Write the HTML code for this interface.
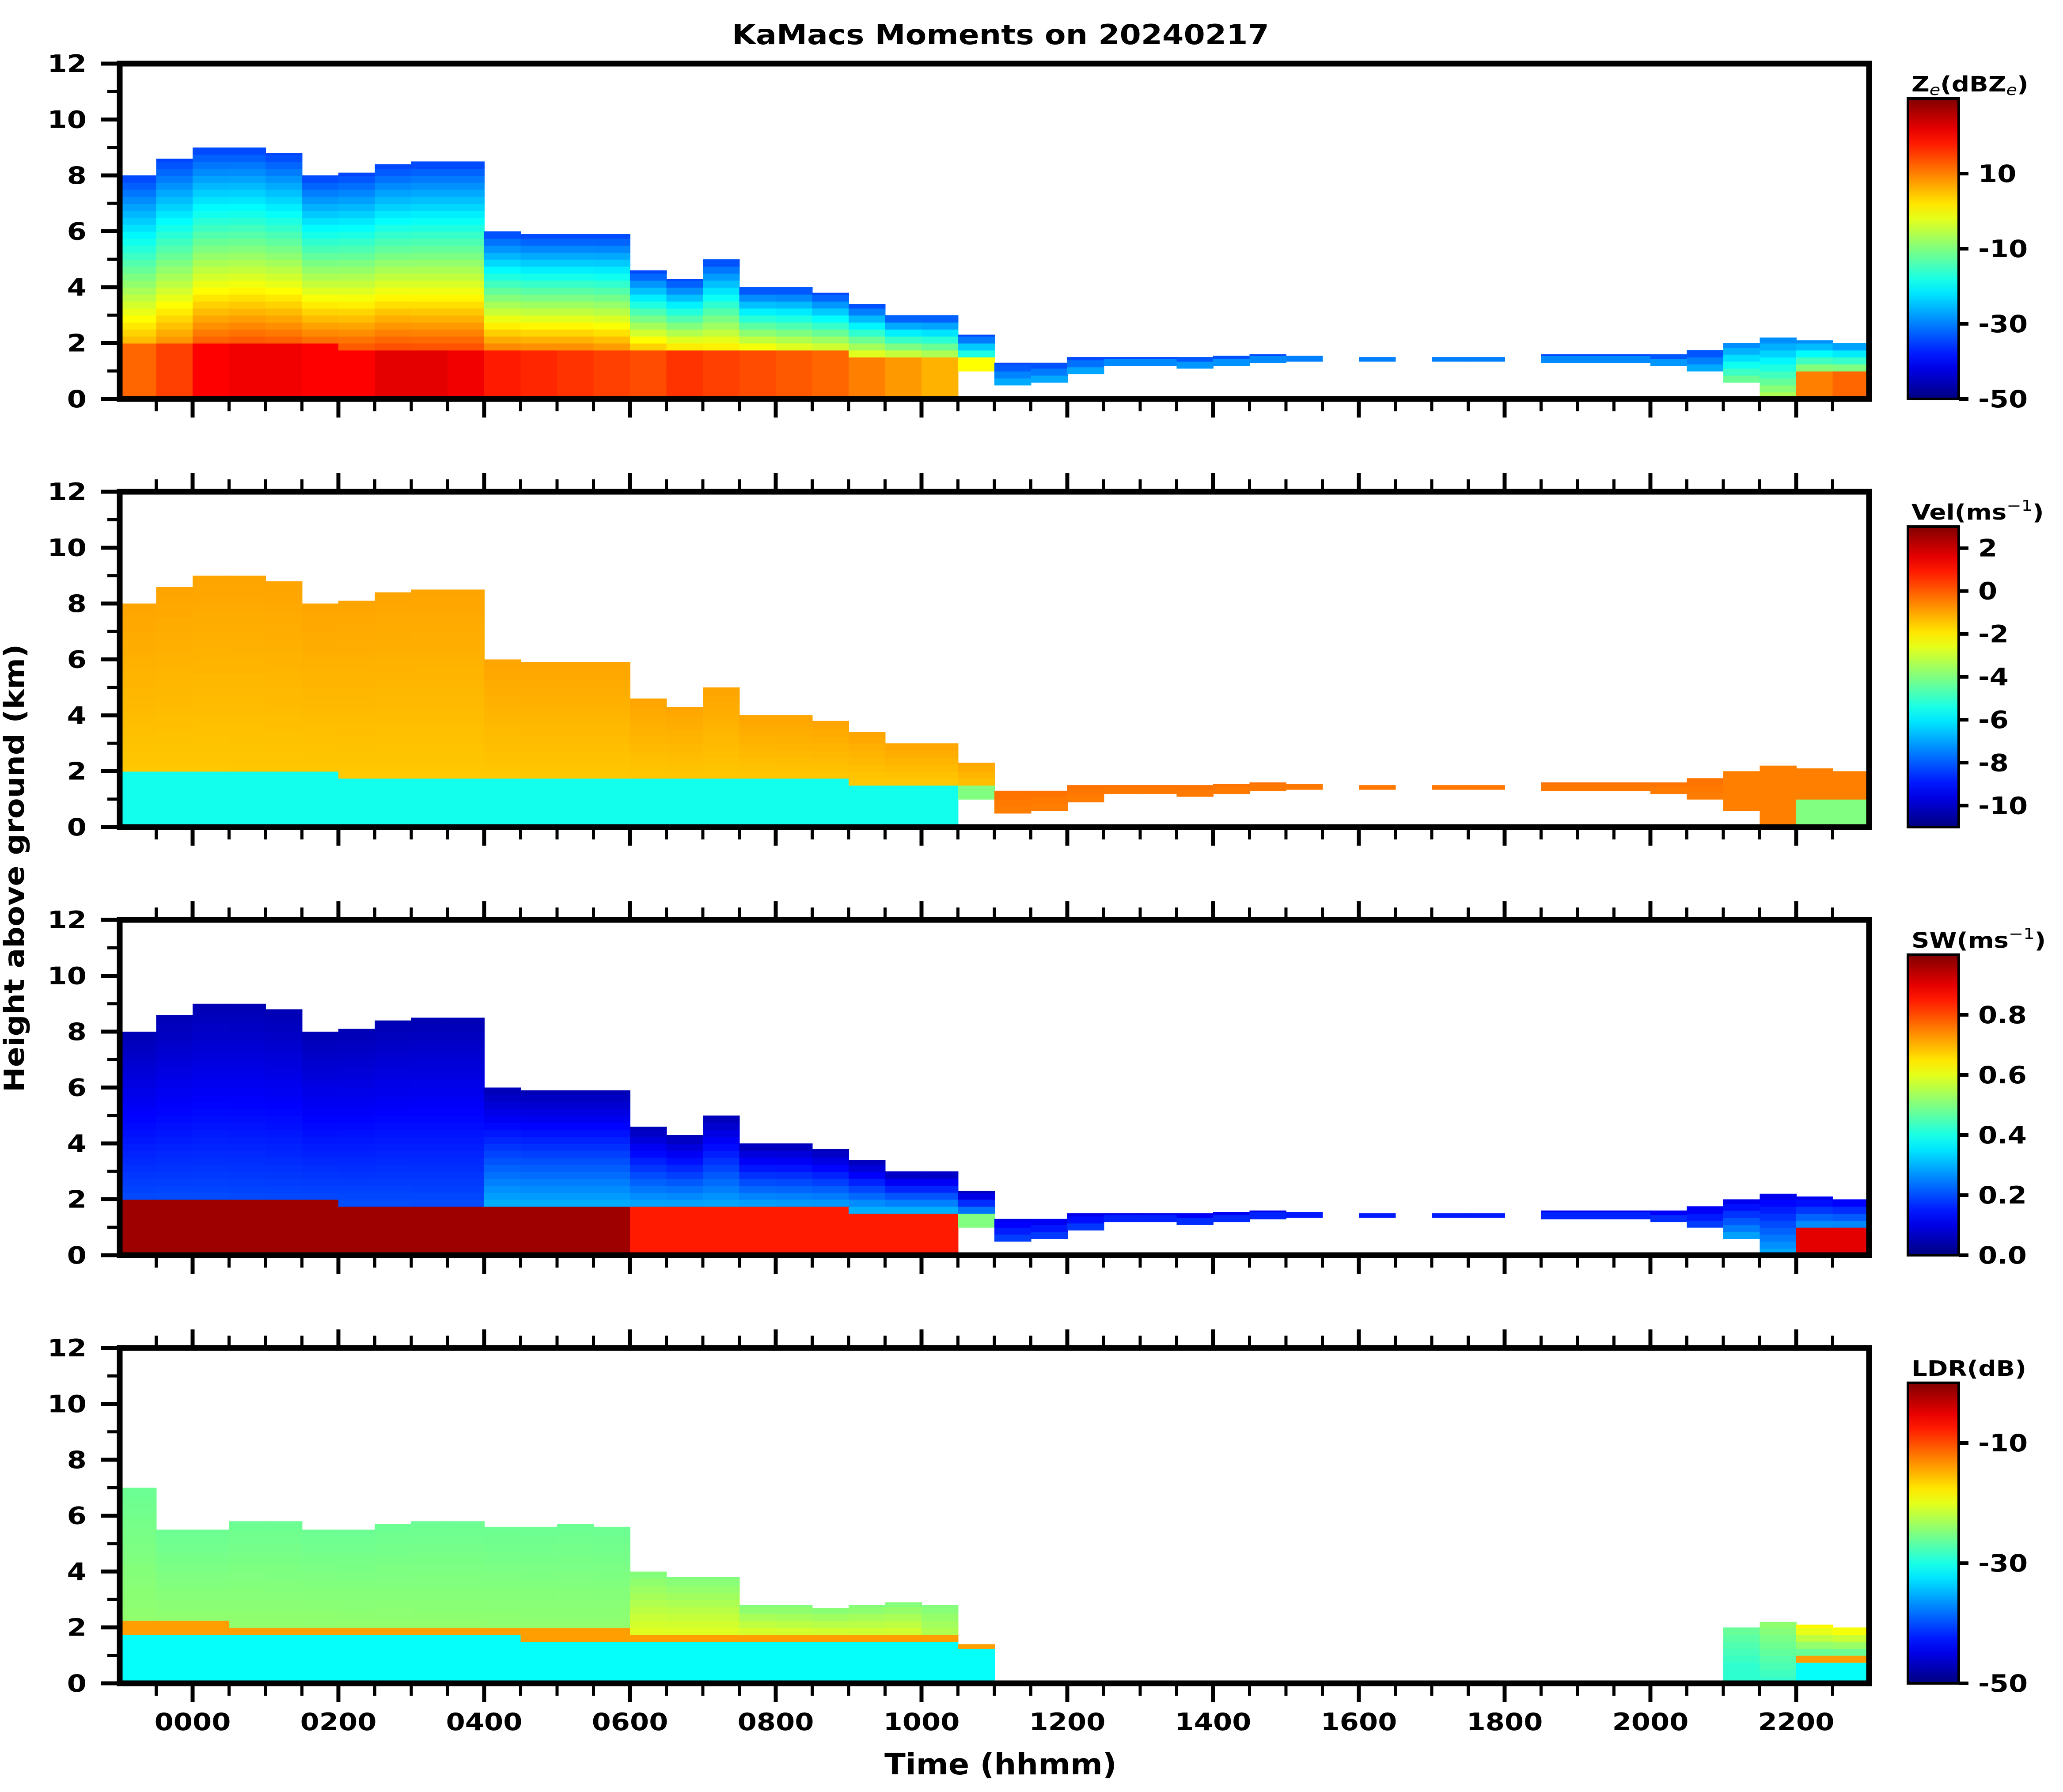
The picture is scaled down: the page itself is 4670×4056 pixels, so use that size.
<!DOCTYPE html>
<html><head><meta charset="utf-8">
<style>
html,body{margin:0;padding:0;background:#fff;}
svg{display:block;font-family:"DejaVu Sans","Liberation Sans",sans-serif;font-weight:bold;}
</style></head>
<body>
<svg id="chart" xmlns="http://www.w3.org/2000/svg" width="4670" height="4056" viewBox="0 0 4670 4056">
<rect x="0" y="0" width="4670" height="4056" fill="#fff"/>
<text data-wide="1.12" x="2265" y="100" font-size="62" text-anchor="middle">KaMacs Moments on 20240217</text>
<text data-wide="1.06" x="2265" y="4016" font-size="66" text-anchor="middle">Time (hhmm)</text>
<text data-wide="1.1" x="0" y="0" font-size="62" text-anchor="middle" transform="translate(54,1965) rotate(-90)">Height above ground (km)</text>
<g id="panels"></g>
</svg>
<script>
// time bins (hours, bin start, width 0.5 h)
const hours = [];
for (let k = 0; k < 48; k++) hours.push(-1 + k * 0.5);
const echoTop = [8.0,8.6,9.0,9.0,8.8,8.0,8.1,8.4,8.5,8.5,6.0,5.9,5.9,5.9,4.6,4.3,5.0,4.0,4.0,3.8,3.4,3.0,3.0,2.3,1.3,1.3,1.5,1.5,1.5,1.5,1.55,1.6,1.55,0,1.5,0,1.5,1.5,0,1.6,1.6,1.6,1.6,1.75,2.0,2.2,2.1,2.0];
const echoBase = [0,0,0,0,0,0,0,0,0,0,0,0,0,0,0,0,0,0,0,0,0,0,0,1.0,0.5,0.6,0.9,1.2,1.2,1.1,1.2,1.3,1.35,0,1.35,0,1.35,1.35,0,1.3,1.3,1.3,1.2,1.0,0.6,0,0,0];
const meltKm = [2.0,2.0,2.0,1.95,1.9,1.9,1.85,1.85,1.8,1.8,1.8,1.75,1.75,1.75,1.7,1.7,1.7,1.7,1.65,1.65,1.6,1.6,1.6,1.4,0,0,0,0,0,0,0,0,0,0,0,0,0,0,0,0,0,0,0,0,0,0,0.9,0.9];
const ldrTop = [7.0,5.5,5.5,5.8,5.8,5.5,5.5,5.7,5.8,5.8,5.6,5.6,5.7,5.6,4.0,3.8,3.8,2.8,2.8,2.7,2.8,2.9,2.8,1.4,0,0,0,0,0,0,0,0,0,0,0,0,0,0,0,0,0,0,0,0,2.0,2.2,2.1,2.0];
// reflectivity (dBZe)
const zeLow = [12,15,20,21,21,20,20,22,22,21,18,17,16,15,14,16,15,14,13,12,10,8,6,0,-20,-20,-20,-20,-20,-20,-20,-20,-20,-20,-20,-20,-20,-20,-20,-20,-20,-20,-20,-20,0,0,10,12];
const zeMid = [6,9,13,14,14,13,13,14,14,14,10,10,10,9,6,4,3,2,1,0,-2,-4,-6,-12,-25,-25,-25,-25,-25,-25,-25,-25,-25,-25,-25,-25,-25,-25,-25,-25,-25,-25,-25,-25,-10,-5,-5,-5];
const zeTop = [-35,-35,-35,-35,-35,-35,-35,-35,-35,-35,-35,-35,-35,-35,-35,-35,-35,-35,-35,-35,-35,-35,-35,-35,-35,-35,-35,-35,-35,-35,-35,-35,-35,-35,-35,-35,-35,-35,-35,-35,-35,-35,-35,-35,-30,-30,-30,-30];
// velocity (m/s)
const velLow = [-5.5,-5.5,-5.5,-5.5,-5.5,-5.5,-5.5,-5.5,-5.5,-5.5,-5.5,-5.5,-5.5,-5.5,-5.5,-5.5,-5.5,-5.5,-5.5,-5.5,-5.5,-5.5,-5.5,-4,0,0,0,0,0,0,0,0,0,0,0,0,0,0,0,0,0,0,0,0,-2,-3,-4,-4];
const velMid = [-1.5,-1.5,-1.5,-1.5,-1.5,-1.5,-1.5,-1.5,-1.5,-1.5,-1.5,-1.5,-1.5,-1.5,-1.5,-1.5,-1.5,-1.5,-1.5,-1.5,-1.5,-1.5,-1.5,-1.5,-0.5,-0.5,-0.5,-0.5,-0.5,-0.5,-0.5,-0.5,-0.5,-0.5,-0.5,-0.5,-0.5,-0.5,-0.5,-0.5,-0.5,-0.5,-0.5,-0.5,-0.5,-0.5,-0.5,-0.5];
const velTop = [-1,-1,-1,-1,-1,-1,-1,-1,-1,-1,-1,-1,-1,-1,-1,-1,-1,-1,-1,-1,-1,-1,-1,-1,-0.3,-0.3,-0.3,-0.3,-0.3,-0.3,-0.3,-0.3,-0.3,-0.3,-0.3,-0.3,-0.3,-0.3,-0.3,-0.3,-0.3,-0.3,-0.3,-0.3,-0.5,-0.5,-0.5,-0.5];
// spectrum width (m/s)
const swLow = [0.97,0.97,0.97,0.97,0.97,0.97,0.97,0.97,0.97,0.97,0.97,0.97,0.97,0.97,0.85,0.85,0.85,0.85,0.85,0.85,0.85,0.85,0.85,0.5,0.2,0.2,0.2,0.2,0.2,0.2,0.2,0.2,0.2,0.2,0.2,0.2,0.2,0.2,0.2,0.2,0.2,0.2,0.2,0.2,0.9,0.9,0.9,0.9];
const swMid = [0.2,0.2,0.2,0.2,0.2,0.2,0.2,0.2,0.2,0.2,0.3,0.3,0.3,0.3,0.3,0.3,0.3,0.3,0.3,0.3,0.3,0.3,0.3,0.3,0.2,0.2,0.2,0.2,0.2,0.2,0.2,0.2,0.2,0.2,0.2,0.2,0.2,0.2,0.2,0.2,0.2,0.2,0.2,0.2,0.3,0.3,0.3,0.3];
const swTop = [0.05,0.05,0.05,0.05,0.05,0.05,0.05,0.05,0.05,0.05,0.05,0.05,0.05,0.05,0.05,0.05,0.05,0.05,0.05,0.05,0.05,0.05,0.05,0.05,0.1,0.1,0.1,0.1,0.1,0.1,0.1,0.1,0.1,0.1,0.1,0.1,0.1,0.1,0.1,0.1,0.1,0.1,0.1,0.1,0.1,0.1,0.1,0.1];
// linear depolarization ratio (dB)
const ldrLow = [-31,-31,-31,-31,-31,-31,-31,-31,-31,-31,-31,-31,-31,-31,-31,-31,-31,-31,-31,-31,-31,-31,-31,-31,-31,-31,-31,-31,-31,-31,-31,-31,-31,-31,-31,-31,-31,-31,-31,-31,-31,-31,-31,-31,-31,-31,-31,-31];
const ldrMid = [-24,-24,-24,-24,-24,-24,-24,-24,-24,-24,-24,-24,-24,-24,-20,-20,-20,-20,-20,-20,-20,-20,-22,-22,-22,-22,-22,-22,-22,-22,-22,-22,-22,-22,-22,-22,-22,-22,-22,-22,-22,-22,-22,-22,-29,-29,-28,-28];
const ldrTopVal = [-26,-26,-26,-26,-26,-26,-26,-26,-26,-26,-26,-26,-26,-26,-25,-25,-25,-25,-25,-25,-25,-25,-25,-25,-25,-25,-25,-25,-25,-25,-25,-25,-25,-25,-25,-25,-25,-25,-25,-25,-25,-25,-25,-25,-26,-24,-18,-18];
const ldrMeltVal = -14;
// axis tick labels
const yTickLabels = ["0","2","4","6","8","10","12"];
const xTickHours = [0,2,4,6,8,10,12,14,16,18,20,22];
const xTickLabels = ["0000","0200","0400","0600","0800","1000","1200","1400","1600","1800","2000","2200"];
const cbRanges = [[-50,30],[-11,3],[0,1],[-50,0]];
const cbTicks = [[-50,-30,-10,10],[-10,-8,-6,-4,-2,0,2],[0,0.2,0.4,0.6,0.8],[-50,-30,-10]];
const cbTickLabels = [["-50","-30","-10","10"],["-10","-8","-6","-4","-2","0","2"],["0.0","0.2","0.4","0.6","0.8"],["-50","-30","-10"]];
const panelNames = ["reflectivity","velocity","spectrum-width","ldr"];

const NS = "http://www.w3.org/2000/svg";
const X0 = 271, XPH = 165, PANEL_DY = 969, Y0 = 903, YPK = 63.25;
function xOf(t){ return X0 + (t + 1) * XPH; }
function yOf(h, p){ return Y0 + p * PANEL_DY - h * YPK; }
function jet(t){
  t = Math.max(0, Math.min(1, t));
  const c = v => Math.round(255 * Math.max(0, Math.min(1, v)));
  return "rgb(" + c(1.5 - Math.abs(4*t - 3)) + "," + c(1.5 - Math.abs(4*t - 2)) + "," + c(1.5 - Math.abs(4*t - 1)) + ")";
}
function mk(tag, attrs, parent){
  const e = document.createElementNS(NS, tag);
  for (const k in attrs) e.setAttribute(k, attrs[k]);
  parent.appendChild(e);
  return e;
}
const svg = document.getElementById("chart");
const root = document.getElementById("panels");
const defs = mk("defs", {}, svg);
const jg = mk("linearGradient", {id:"jetgrad", x1:"0", y1:"1", x2:"0", y2:"0"}, defs);
for (let s = 0; s <= 20; s++) mk("stop", {offset: (s/20), "stop-color": jet(s/20)}, jg);

const lows = [zeLow, velLow, swLow, ldrLow];
const mids = [zeMid, velMid, swMid, ldrMid];
const tops = [zeTop, velTop, swTop, ldrTopVal];

function valueAt(p, i, h, top){
  const m = meltKm[i];
  if (p === 3 && m > 0 && Math.abs(h - m) < 0.13) return ldrMeltVal;
  if (h < m) return lows[p][i];
  const base = Math.max(m, echoBase[i]);
  const f = top > base ? (h - base) / (top - base) : 0;
  return mids[p][i] + (tops[p][i] - mids[p][i]) * Math.max(0, Math.min(1, f));
}

const STEP = 0.25;
for (let p = 0; p < 4; p++){
  const g = mk("g", {}, root);
  
  
  const cells = mk("g", {}, g);
  
  
  const [vmin, vmax] = cbRanges[p];
  for (let i = 0; i < hours.length; i++){
    const top = p === 3 ? ldrTop[i] : echoTop[i];
    const base = p === 3 ? 0 : echoBase[i];
    if (top <= 0) continue;
    const xa = xOf(hours[i]), xb = xOf(hours[i] + 0.5);
    for (let h = base; h < top - 1e-6; h += STEP){
      const h2 = Math.min(top, h + STEP);
      const v = valueAt(p, i, (h + h2) / 2, top);
      const r = mk("rect", {x: xa.toFixed(1), y: yOf(h2, p).toFixed(1), width: (xb - xa + 1).toFixed(1), height: (yOf(h, p) - yOf(h2, p) + 1).toFixed(1), fill: jet((v - vmin) / (vmax - vmin))}, cells);
      
      
    }
  }
  const fr = mk("rect", {x: X0, y: yOf(12, p), width: xOf(23) - X0, height: yOf(0, p) - yOf(12, p), fill: "none", stroke: "#000", "stroke-width": 13}, g);
  
  
  for (let k = 0; k <= 12; k++){
    const y = yOf(k, p), major = k % 2 === 0;
    const t = mk("line", {x1: X0 - (major ? 42 : 28), x2: X0, y1: y, y2: y, stroke: "#000", "stroke-width": major ? 9 : 7}, g);
    
    
  }
  for (let k = 0; k < yTickLabels.length; k++){
    const lb = mk("text", {x: 196, y: yOf(k * 2, p) + 19, "font-size": 54, "text-anchor": "end", "data-wide": "1.18"}, g);
    lb.textContent = yTickLabels[k];
    
    
  }
  for (let k = 0; k <= 47; k++){
    const t = -0.5 + k * 0.5;
    if (t <= -1 || t >= 23) continue;
    const x = xOf(t), major = (Math.abs(t % 2) < 1e-6);
    const len = major ? 42 : 28;
    const yb = yOf(0, p);
    const tb = mk("line", {x1: x, x2: x, y1: yb, y2: yb + len, stroke: "#000", "stroke-width": major ? 9 : 7}, g);
    
    
    if (p > 0){
      const yt = yOf(12, p);
      const tt = mk("line", {x1: x, x2: x, y1: yt - len, y2: yt, stroke: "#000", "stroke-width": major ? 9 : 7}, g);
      
      
    }
  }
  if (p === 3){
    for (let k = 0; k < xTickHours.length; k++){
      const lb = mk("text", {x: xOf(xTickHours[k]), y: yOf(0, p) + 106, "font-size": 54, "text-anchor": "middle", "data-wide": "1.15"}, g);
      lb.textContent = xTickLabels[k];
      
      
    }
  }
  const cbTop = 223 + p * PANEL_DY, cbBot = 903 + p * PANEL_DY, cbX = 4319, cbW = 115;
  const cb = mk("rect", {x: cbX, y: cbTop, width: cbW, height: cbBot - cbTop, fill: "url(#jetgrad)", stroke: "#000", "stroke-width": 6}, g);
  
  
  for (let k = 0; k < cbTicks[p].length; k++){
    const v = cbTicks[p][k];
    const y = cbBot - (v - vmin) / (vmax - vmin) * (cbBot - cbTop);
    const tk = mk("line", {x1: cbX + cbW, x2: cbX + cbW + 22, y1: y, y2: y, stroke: "#000", "stroke-width": 8}, g);
    
    
    const lb = mk("text", {x: 4478, y: y + 19, "font-size": 54, "data-wide": "1.15"}, g);
    lb.textContent = cbTickLabels[p][k];
    
    
  }
}
function cbTitle(p, parts){
  const t = mk("text", {x: 4327, y: 207 + p * PANEL_DY, "font-size": 48, "data-wide": "1.17"}, root);
  
  
  for (const [txt, kind] of parts){
    const s = mk("tspan", {}, t);
    if (kind === "sub"){ s.setAttribute("font-size", "34"); s.setAttribute("baseline-shift", "-8"); s.setAttribute("font-style", "italic"); s.setAttribute("font-weight", "normal"); }
    if (kind === "sup"){ s.setAttribute("font-size", "34"); s.setAttribute("baseline-shift", "20"); s.setAttribute("font-weight", "normal"); }
    s.textContent = txt;
  }
}
cbTitle(0, [["Z",""],["e","sub"],["(dBZ",""],["e","sub"],[")",""]]);
cbTitle(1, [["Vel(ms",""],["\u22121","sup"],[")",""]]);
cbTitle(2, [["SW(ms",""],["\u22121","sup"],[")",""]]);
cbTitle(3, [["LDR(dB)",""]]);
// widen text to match the reference's wider bold glyphs
document.querySelectorAll("text[data-wide]").forEach(function(t){
  const f = parseFloat(t.getAttribute("data-wide"));
  const w = t.getComputedTextLength();
  if (w > 0){
    t.setAttribute("textLength", (w * f).toFixed(1));
    t.setAttribute("lengthAdjust", "spacingAndGlyphs");
  }
});
</script>
</body></html>
